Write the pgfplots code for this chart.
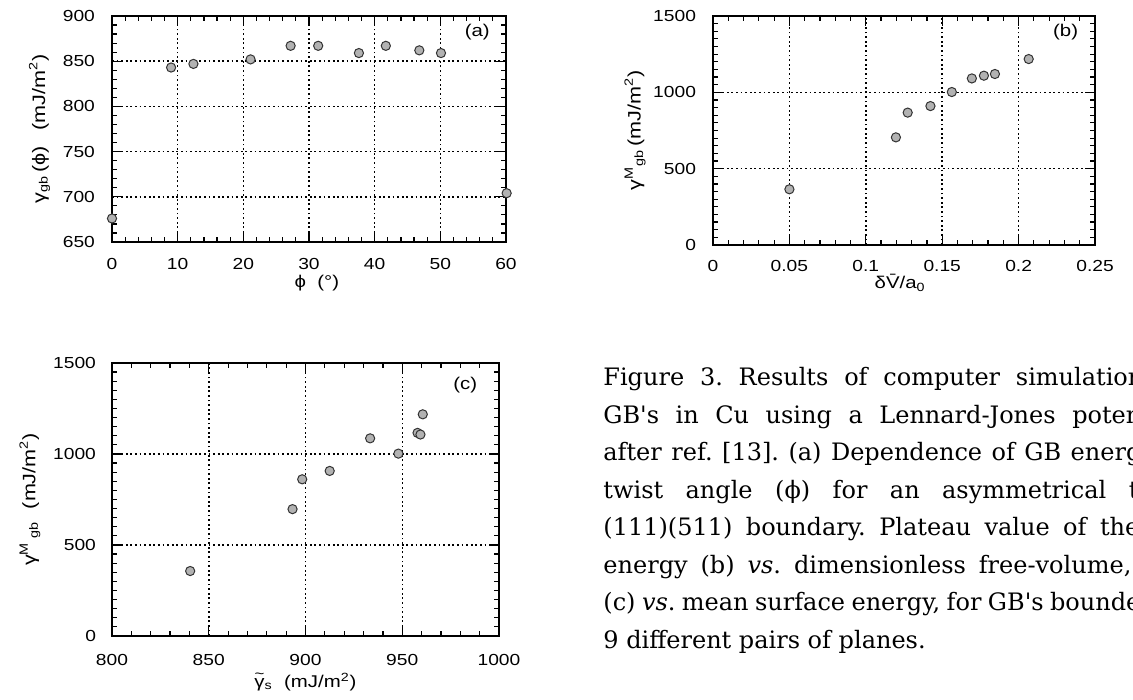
\documentclass[border=0pt]{standalone}
\usepackage{fontspec}
\setmainfont{Liberation Sans}[FakeStretch=1.2]
\newfontfamily\capfont{DejaVu Serif}
\usepackage{pgfplots}
\pgfplotsset{compat=1.18}

\newcommand{\tgam}{\ooalign{γ\cr\hidewidth\raisebox{0.5em}{\fontsize{7}{7}\selectfont\char"007E}\hidewidth\cr}}

\pgfplotsset{
  panel/.style={
    scale only axis,
    axis line style={line width=0.9pt},
    tick style={line width=0.6pt, black},
    major tick length=5pt,
    minor tick length=2.5pt,
    tick align=inside,
    tick pos=both,
    grid=major,
    major grid style={black, line width=0.75pt, dash pattern=on 0.9pt off 1.4pt},
    every tick label/.append style={font=\fontsize{8}{9}\selectfont},
    label style={font=\fontsize{8.5}{9}\selectfont},
    ylabel style={font=\fontsize{9}{10}\selectfont},
    /pgf/number format/assume math mode=true,
    /pgf/number format/1000 sep={},
    scaled ticks=false,
    clip=false,
  },
  dots/.style={only marks, mark=*, mark size=2.3pt,
    mark options={fill=gray!60, draw=black!80, line width=0.5pt}},
}

\begin{document}
\frenchspacing
\begin{tikzpicture}
\path[use as bounding box] (0,0) rectangle (566.5pt,350pt);

% (a) GB energy vs twist angle
\begin{axis}[panel, at={(56pt,229pt)}, anchor=south west,
  width=197pt, height=113pt,
  xmin=0, xmax=60, ymin=650, ymax=900,
  xtick={0,10,...,60}, ytick={650,700,...,900},
  minor x tick num=4, minor y tick num=4,
  xticklabel style={yshift=-4.5pt}, yticklabel style={xshift=-5pt},
  xlabel={ϕ~~(°)},
  ylabel={γ\textsubscript{gb}\,(ϕ)\hspace{8pt}(mJ/m\textsuperscript{2})},
  xlabel style={at={(axis description cs:0.52,-0.181)}, anchor=center},
  ylabel style={at={(axis description cs:-0.184,0.5)}, anchor=center},
]
\addplot[dots] coordinates {
  (0,676) (9,843) (12.4,847) (21.1,852) (27.2,867) (31.4,867)
  (37.6,859) (41.7,867) (46.8,862) (50.1,859) (60.1,704)
};
\node[font=\fontsize{8.5}{9}\selectfont] at (rel axis cs:0.927,0.929) {(a)};
\end{axis}

% (b) plateau GB energy vs free volume
\begin{axis}[panel, at={(356.5pt,227.5pt)}, anchor=south west,
  width=191pt, height=114.5pt,
  xmin=0, xmax=0.25, ymin=0, ymax=1500,
  xtick={0,0.05,...,0.25}, xticklabels={0,0.05,0.1,0.15,0.2,0.25},
  ytick={0,500,...,1500},
  minor x tick num=4, minor y tick num=9,
  xticklabel style={yshift=-4pt}, yticklabel style={xshift=-5pt},
  xlabel={δ\={V}/a\textsubscript{0}},
  ylabel={γ\textsuperscript{M}\textsubscript{gb}\,(mJ/m\textsuperscript{2})},
  xlabel style={at={(axis description cs:0.49,-0.166)}, anchor=center},
  ylabel style={at={(axis description cs:-0.204,0.5)}, anchor=center},
]
\addplot[dots] coordinates {
  (0.05,365) (0.1197,705) (0.1274,867) (0.1423,910) (0.1563,1002)
  (0.1694,1091) (0.1773,1109) (0.1845,1120) (0.2066,1218)
};
\node[font=\fontsize{8.5}{9}\selectfont] at (rel axis cs:0.923,0.93) {(b)};
\end{axis}

% (c) plateau GB energy vs mean surface energy
\begin{axis}[panel, at={(56pt,32pt)}, anchor=south west,
  width=193.5pt, height=136.5pt,
  xmin=800, xmax=1000, ymin=0, ymax=1500,
  xtick={800,850,...,1000}, ytick={0,500,...,1500},
  minor x tick num=4, minor y tick num=9,
  xticklabel style={yshift=-5.5pt}, yticklabel style={xshift=-4.5pt},
  xlabel={\tgam\textsubscript{s}~~(mJ/m\textsuperscript{2})},
  ylabel={γ\textsuperscript{M}\hspace{2pt}\textsubscript{gb}\hspace{6pt}(mJ/m\textsuperscript{2})},
  xlabel style={at={(axis description cs:0.5,-0.168)}, anchor=center},
  ylabel style={at={(axis description cs:-0.212,0.5)}, anchor=center},
]
\addplot[dots] coordinates {
  (840.4,357) (893.3,697) (898.3,861) (912.5,907) (933.4,1086)
  (948,1002) (957.9,1116) (959.4,1107) (960.6,1218)
};
\node[font=\fontsize{8.5}{9}\selectfont] at (rel axis cs:0.913,0.919) {(c)};
\end{axis}

% caption, cut off at the right edge as in the scan
\begin{scope}
\clip (0,0) rectangle (566.5pt,350pt);
\begin{scope}[every node/.style={anchor=base west, inner sep=0pt,
    font=\capfont\fontsize{12}{14}\selectfont}]
\node at (301.5pt,157pt)  {\makebox[270pt][s]{Figure 3. Results of computer simulation}};
\node at (301.5pt,138.25pt){\makebox[269pt][s]{GB's in Cu using a Lennard-Jones poten}};
\node at (301.5pt,119.5pt){\makebox[269pt][s]{after ref. [13]. (a) Dependence of GB energ}};
\node at (301.5pt,100.75pt){\makebox[267.5pt][s]{twist angle (ϕ) for an asymmetrical t}};
\node at (301.5pt,82pt)   {\makebox[268pt][s]{(111)(511) boundary. Plateau value of the}};
\node at (301.5pt,63.25pt){\makebox[264pt][s]{energy (b) \textit{vs}. dimensionless free-volume,}};
\node at (301.5pt,44.5pt) {\makebox[268.5pt][s]{(c) \textit{vs}. mean surface energy, for GB's bounde}};
\node at (301.5pt,25.75pt){9 different pairs of planes.};
\end{scope}
\end{scope}
\end{tikzpicture}
\end{document}
